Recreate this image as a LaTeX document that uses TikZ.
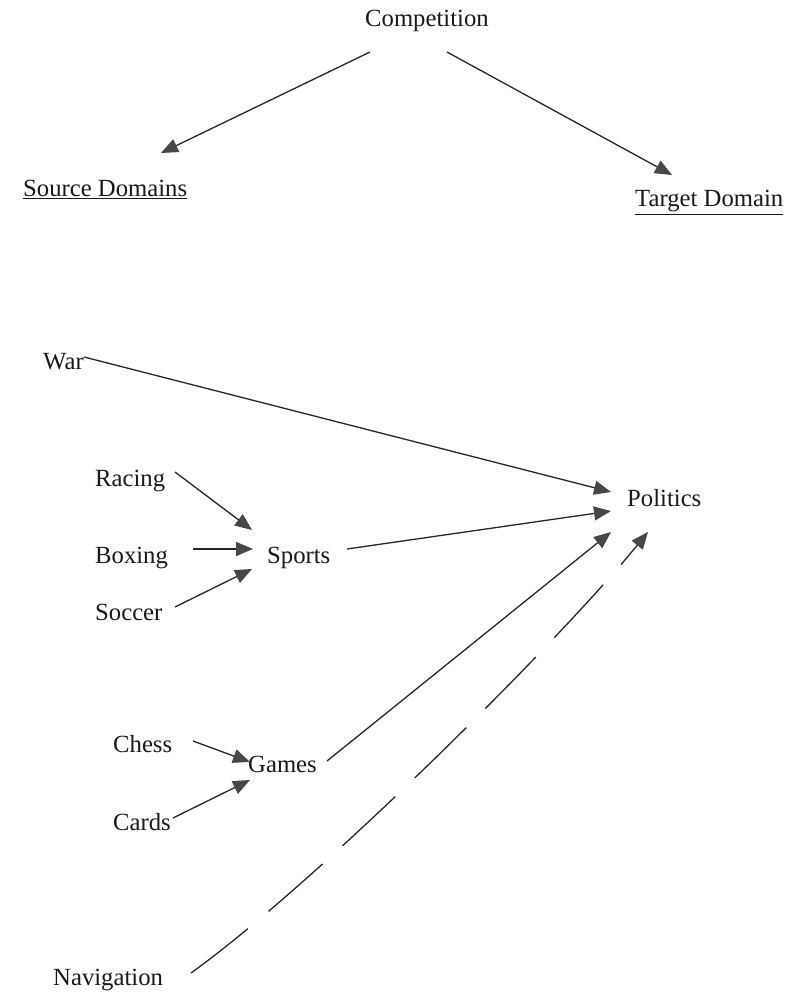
\documentclass[tikz,border=0pt]{standalone}
\usepackage{fontspec}
\setmainfont{Liberation Serif}
\usetikzlibrary{arrows.meta}
\begin{document}
\begin{tikzpicture}[x=1pt,y=-1pt,
  lbl/.style={anchor=base west,inner sep=0pt,font=\fontsize{24.7}{30}\selectfont,text=black!90},
  conn/.style={line width=1.3pt,draw=black!85,-{Triangle[length=17pt,width=14pt,color=black!72]}},
  navline/.style={conn,dash pattern=on 72pt off 27pt}]
\useasboundingbox (0,0) rectangle (805,992);
% labels
\node[lbl] (comp) at (365,27) {Competition};
\node[lbl] (src) at (23,197) {\underline{Source Domains}};
\node[lbl] (tgt) at (635,207) {\underline{Target Domain}};
\node[lbl] (war) at (43,369) {War};
\node[lbl] (racing) at (95,486) {Racing};
\node[lbl] (boxing) at (95,563) {Boxing};
\node[lbl] (sports) at (267,563) {Sports};
\node[lbl] (soccer) at (95,620) {Soccer};
\node[lbl] (politics) at (627,506) {Politics};
\node[lbl] (chess) at (113,752) {Chess};
\node[lbl] (games) at (248,772) {Games};
\node[lbl] (cards) at (113,830) {Cards};
\node[lbl] (nav) at (53,985) {Navigation};
% connector end points
\coordinate (compL) at (370,52);
\coordinate (compR) at (447,52);
\coordinate (srcIn) at (161,153);
\coordinate (tgtIn) at (672,175);
\coordinate (warOut) at (84,357);
\coordinate (polIn1) at (611,492);
\coordinate (polIn2) at (611,511);
\coordinate (polIn3) at (611,532);
\coordinate (polIn4) at (648,532);
\coordinate (racOut) at (175,472);
\coordinate (spIn1) at (252,530);
\coordinate (boxOut) at (193,549);
\coordinate (spIn2) at (253,549);
\coordinate (socOut) at (175,607);
\coordinate (spIn3) at (252,569);
\coordinate (spOut) at (347,549);
\coordinate (chOut) at (193,741);
\coordinate (gmIn1) at (250,762);
\coordinate (caOut) at (173,818);
\coordinate (gmIn2) at (250,780);
\coordinate (gmOut) at (327,761);
\coordinate (navOut) at (191,973);
% connectors
\draw[conn] (compL) -- (srcIn);
\draw[conn] (compR) -- (tgtIn);
\draw[conn] (warOut) -- (polIn1);
\draw[conn] (racOut) -- (spIn1);
\draw[conn] (boxOut) -- (spIn2);
\draw[conn] (socOut) -- (spIn3);
\draw[conn] (spOut) -- (polIn2);
\draw[conn] (chOut) -- (gmIn1);
\draw[conn] (caOut) -- (gmIn2);
\draw[conn] (gmOut) -- (polIn3);
\draw[navline] (navOut) .. controls (320,880) and (560,640) .. (polIn4);
\end{tikzpicture}
\end{document}
